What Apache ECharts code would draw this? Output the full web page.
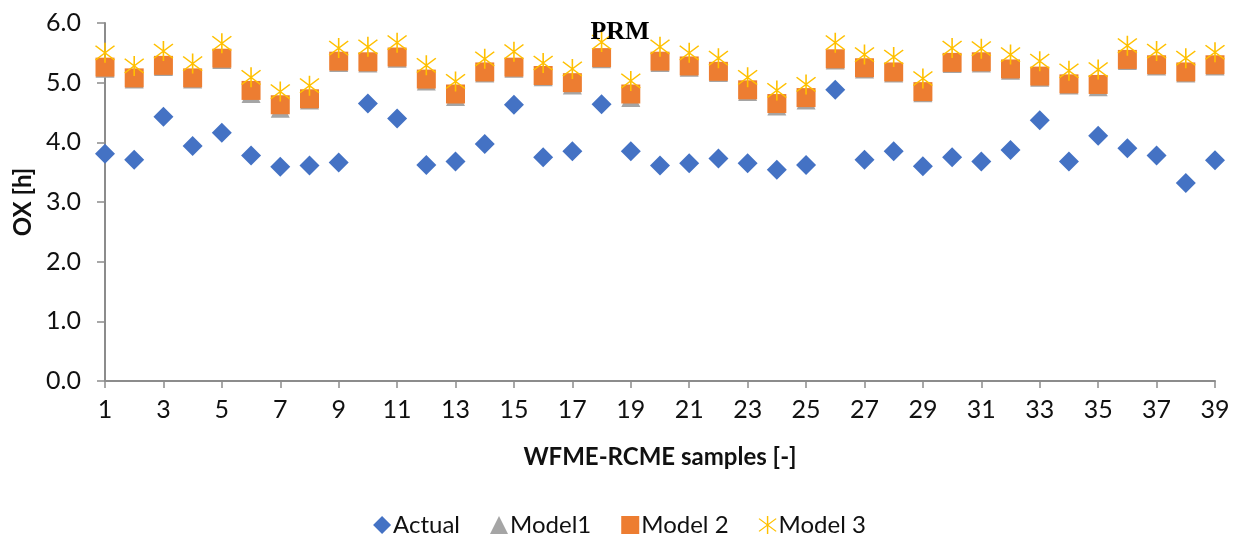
<!DOCTYPE html>
<html>
<head>
<meta charset="utf-8">
<script src="https://cdn.jsdelivr.net/npm/echarts@6/dist/echarts.min.js"></script>
<style>
  html, body { margin: 0; padding: 0; background: #fff; }
  #chart { width: 1239px; height: 545px; }
</style>
</head>
<body>
<div id="chart"></div>
<script>
// sample numbers 1..39
const samples = ["1","2","3","4","5","6","7","8","9","10","11","12","13","14","15","16","17","18","19","20",
  "21","22","23","24","25","26","27","28","29","30","31","32","33","34","35","36","37","38","39"];

const actual = [3.81, 3.71, 4.43, 3.94, 4.16, 3.78, 3.59, 3.61, 3.66, 4.65, 4.40, 3.62, 3.68, 3.97, 4.63,
  3.75, 3.85, 4.64, 3.85, 3.61, 3.65, 3.73, 3.65, 3.54, 3.62, 4.88, 3.71, 3.85, 3.60, 3.75,
  3.68, 3.87, 4.37, 3.68, 4.11, 3.90, 3.78, 3.32, 3.70];

const model1 = [5.24, 5.06, 5.27, 5.06, 5.39, 4.82, 4.57, 4.71, 5.34, 5.33, 5.41, 5.03, 4.77, 5.16, 5.24,
  5.10, 4.96, 5.40, 4.75, 5.34, 5.26, 5.17, 4.85, 4.61, 4.71, 5.38, 5.23, 5.16, 4.83, 5.32,
  5.33, 5.21, 5.09, 4.96, 4.93, 5.37, 5.28, 5.16, 5.28];

const model2 = [5.26, 5.08, 5.29, 5.08, 5.41, 4.87, 4.63, 4.73, 5.36, 5.35, 5.43, 5.06, 4.81, 5.18, 5.26,
  5.12, 5.00, 5.42, 4.81, 5.36, 5.28, 5.19, 4.88, 4.65, 4.75, 5.40, 5.25, 5.18, 4.85, 5.34,
  5.35, 5.23, 5.11, 4.98, 4.97, 5.39, 5.30, 5.18, 5.30];

const model3 = [5.50, 5.28, 5.53, 5.32, 5.66, 5.09, 4.85, 4.95, 5.58, 5.60, 5.67, 5.29, 5.02, 5.40, 5.52,
  5.33, 5.23, 5.68, 5.03, 5.60, 5.50, 5.41, 5.09, 4.87, 4.97, 5.67, 5.47, 5.43, 5.07, 5.58,
  5.57, 5.47, 5.36, 5.20, 5.22, 5.62, 5.53, 5.41, 5.51];

const yTicks = [0, 1, 2, 3, 4, 5, 6];

// excel-like star marker: an X with a vertical bar
const starPath = "path://M46,0 L54,0 L54,100 L46,100 Z M0,17 L5,12 L100,83 L95,88 Z M95,12 L100,17 L5,88 L0,83 Z";

const font = "Lato, 'Open Sans', sans-serif";
const axisGray = "#8c8c8c";
const textColor = "#111";

const chart = echarts.init(document.getElementById("chart"));

const option = {
  animation: false,
  title: {
    text: "PRM",
    left: 615,
    textAlign: "center",
    top: 14,
    textStyle: {
      fontFamily: "'Liberation Serif', 'Times New Roman', serif",
      fontWeight: "bold",
      fontSize: 26,
      color: "#000"
    }
  },
  legend: {
    bottom: 3,
    left: "center",
    itemWidth: 18,
    itemHeight: 18,
    itemGap: 30,
    textStyle: { fontFamily: font, fontSize: 24, color: textColor, padding: [0, 0, 0, -3] },
    data: ["Actual", "Model1", "Model 2", "Model 3"]
  },
  grid: {
    left: 105,
    right: 24,
    top: 23,
    bottom: 164
  },
  xAxis: {
    type: "category",
    data: samples,
    boundaryGap: false,
    name: "WFME-RCME samples [-]",
    nameLocation: "middle",
    nameGap: 64,
    nameTextStyle: { fontFamily: font, fontWeight: "bold", fontSize: 24, color: textColor },
    axisLine: { lineStyle: { color: axisGray, width: 2 } },
    axisTick: { show: true, interval: 1, length: 7, lineStyle: { color: axisGray, width: 1.5 } },
    axisLabel: { interval: 1, margin: 16, fontFamily: font, fontSize: 25, color: textColor },
    splitLine: { show: false }
  },
  yAxis: {
    type: "value",
    min: yTicks[0],
    max: yTicks[yTicks.length - 1],
    interval: 1,
    name: "OX [h]",
    nameLocation: "middle",
    nameGap: 70,
    nameRotate: 90,
    nameTextStyle: { fontFamily: font, fontWeight: "bold", fontSize: 24, color: textColor },
    axisLine: { show: true, lineStyle: { color: axisGray, width: 2 } },
    axisTick: { show: true, length: 8, lineStyle: { color: axisGray, width: 1.5 } },
    axisLabel: {
      margin: 24,
      fontFamily: font,
      fontSize: 25,
      color: textColor,
      formatter: v => v.toFixed(1)
    },
    splitLine: { show: false }
  },
  series: [
    {
      name: "Actual",
      type: "scatter",
      symbol: "diamond",
      symbolSize: 20,
      itemStyle: { color: "#4472C4", opacity: 1 },
      data: actual,
      z: 2
    },
    {
      name: "Model1",
      type: "scatter",
      symbol: "triangle",
      symbolSize: 19,
      itemStyle: { color: "#A5A5A5", opacity: 1 },
      data: model1,
      z: 3
    },
    {
      name: "Model 2",
      type: "scatter",
      symbol: "rect",
      symbolSize: 19,
      itemStyle: { color: "#ED7D31", opacity: 1 },
      data: model2,
      z: 4
    },
    {
      name: "Model 3",
      type: "scatter",
      symbol: starPath,
      symbolSize: 20,
      itemStyle: { color: "#FFC000", opacity: 1 },
      data: model3,
      z: 5
    }
  ]
};

chart.setOption(option);
</script>
</body>
</html>
